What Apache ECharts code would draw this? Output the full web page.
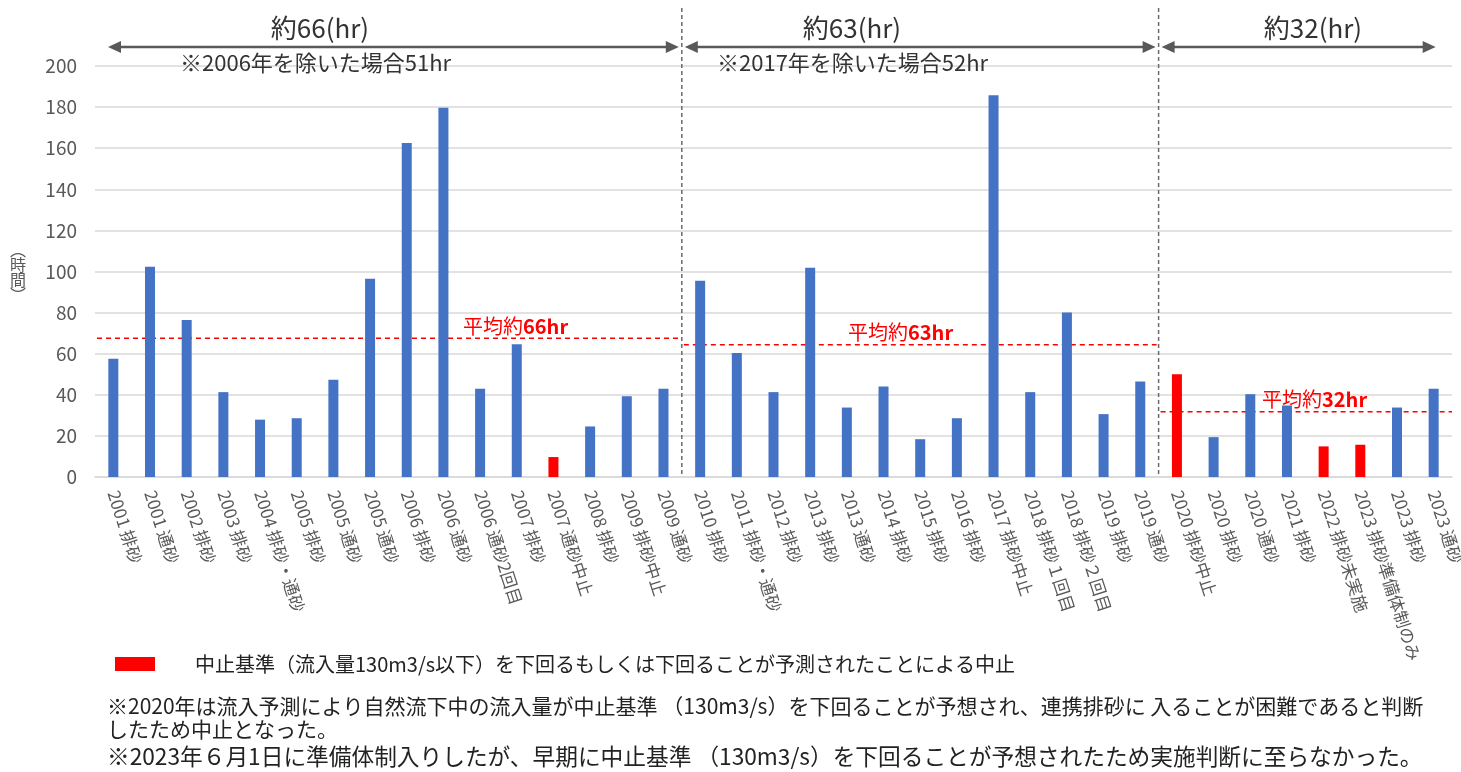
<!DOCTYPE html>
<html>
<head>
<meta charset="utf-8">
<script src="https://cdn.jsdelivr.net/npm/echarts@6/dist/echarts.min.js"></script>
<style>
  html, body { margin: 0; padding: 0; background: #fff; }
  #chart { width: 1461px; height: 772px; }
</style>
</head>
<body>
<div id="chart"></div>
<script>
// categories (year + operation)
const categories = [
  '2001 排砂', '2001 通砂', '2002 排砂', '2003 排砂', '2004 排砂・通砂', '2005 排砂', '2005 通砂', '2005 通砂',
  '2006 排砂', '2006 通砂', '2006 通砂2回目', '2007 排砂', '2007 通砂中止', '2008 排砂', '2009 排砂中止', '2009 通砂',
  '2010 排砂', '2011 排砂・通砂', '2012 排砂', '2013 排砂', '2013 通砂', '2014 排砂', '2015 排砂', '2016 排砂',
  '2017 排砂中止', '2018 排砂１回目', '2018 排砂２回目', '2019 排砂', '2019 通砂',
  '2020 排砂中止', '2020 排砂', '2020 通砂', '2021 排砂', '2022 排砂未実施', '2023 排砂準備体制のみ', '2023 排砂', '2023 通砂'
];
// hours per operation
const hours = [
  57.5, 102.3, 76.4, 41.3, 27.9, 28.6, 47.3, 96.5,
  162.5, 179.7, 43, 64.6, 9.7, 24.6, 39.3, 43,
  95.5, 60.4, 41.3, 101.8, 33.8, 44, 18.4, 28.6,
  185.8, 41.3, 80.1, 30.6, 46.5,
  50, 19.4, 40.3, 34.8, 14.9, 15.7, 33.8, 43
];
// operations stopped by the inflow criterion (red bars)
const stoppedIdx = [12, 29, 33, 34];
// periods: first/last category index, average line value, label
const periodStart = [0, 16, 29];
const periodEnd = [15, 28, 36];
const periodAvg = [67.5, 64.3, 31.7];
const avgLabels = ['66hr', '63hr', '32hr'];
const periodTitles = ['約66(hr)', '約63(hr)', '約32(hr)'];
const periodNotes = ['※2006年を除いた場合51hr', '※2017年を除いた場合52hr', ''];
const yTicks = { min: 0, max: 200, interval: 20 };
const yName = ['︵', '時', '間', '︶'];

const FONT = '"Noto Sans CJK JP", "Noto Sans", sans-serif';
const BLUE = '#4472C4';
const RED = '#FF0000';

const chart = echarts.init(document.getElementById('chart'));

chart.setOption({
  animation: false,
  textStyle: { fontFamily: FONT },
  grid: { left: 95, right: 9, top: 66, bottom: 295, outerBoundsMode: 'none' },
  xAxis: {
    type: 'category',
    data: categories,
    axisLine: { lineStyle: { color: '#d9d9d9', width: 1.5 } },
    axisTick: { show: false },
    axisLabel: { interval: 0, rotate: -72, color: '#595959', fontSize: 17, fontFamily: FONT, margin: 14 }
  },
  yAxis: {
    type: 'value',
    min: yTicks.min,
    max: yTicks.max,
    interval: yTicks.interval,
    axisLine: { show: false },
    axisTick: { show: false },
    axisLabel: { color: '#595959', fontSize: 19, fontFamily: FONT, margin: 18 },
    splitLine: { lineStyle: { color: '#d9d9d9', width: 1.5 } }
  },
  series: [{
    type: 'bar',
    barWidth: 10,
    data: hours.map((v, i) => ({
      value: v,
      itemStyle: { color: stoppedIdx.includes(i) ? RED : BLUE }
    }))
  }]
});

// annotations placed from the axis scales
const x0 = chart.convertToPixel({ gridIndex: 0 }, [0, 0]);
const x1 = chart.convertToPixel({ gridIndex: 0 }, [1, 0]);
const band = x1[0] - x0[0];
const px = i => x0[0] + i * band;
const py = v => chart.convertToPixel({ gridIndex: 0 }, [0, v])[1];
const gridLeft = px(-0.5);
const gridRight = px(categories.length - 0.5);
const yBottom = py(0);

const graphics = [];

// dividers between periods
const dividers = periodEnd.slice(0, -1).map(e => px(e + 0.5));
dividers.forEach(x => {
  graphics.push({
    type: 'line', silent: true,
    shape: { x1: x, y1: 8, x2: x, y2: yBottom },
    style: { stroke: '#6b6b6b', lineWidth: 1.5, lineDash: [4, 3] }
  });
});

// average dashed lines and labels
const avgLabelX = [463, 848, 1262];
periodAvg.forEach((v, k) => {
  const xa = k === 0 ? gridLeft + 2 : dividers[k - 1] + 2;
  const xb = k === periodAvg.length - 1 ? gridRight : dividers[k] - 2;
  const y = py(v);
  graphics.push({
    type: 'line', silent: true,
    shape: { x1: xa, y1: y, x2: xb, y2: y },
    style: { stroke: RED, lineWidth: 1.5, lineDash: [5, 4] }
  });
  graphics.push({
    type: 'text', silent: true,
    x: avgLabelX[k], y: y - 2,
    style: {
      text: '{a|平均約}{b|' + avgLabels[k] + '}',
      textVerticalAlign: 'bottom',
      rich: {
        a: { fill: RED, fontSize: 20, fontFamily: FONT },
        b: { fill: RED, fontSize: 20, fontFamily: FONT, fontWeight: 'bold' }
      }
    }
  });
});

// double-headed arrows with period titles
const arrowY = 47;
const arrowSpans = [
  [px(-0.5) + 13, dividers[0] - 3],
  [dividers[0] + 3, dividers[1] - 3],
  [dividers[1] + 3, px(categories.length - 1) + 2]
];
const titleX = [320, 852, 1313];
const noteX = [180, 717];
arrowSpans.forEach(([a, b], k) => {
  const c = '#595959';
  graphics.push({
    type: 'line', silent: true,
    shape: { x1: a + 10, y1: arrowY, x2: b - 10, y2: arrowY },
    style: { stroke: c, lineWidth: 2.5 }
  });
  graphics.push({
    type: 'polygon', silent: true,
    shape: { points: [[a, arrowY], [a + 13, arrowY - 6], [a + 13, arrowY + 6]] },
    style: { fill: c }
  });
  graphics.push({
    type: 'polygon', silent: true,
    shape: { points: [[b, arrowY], [b - 13, arrowY - 6], [b - 13, arrowY + 6]] },
    style: { fill: c }
  });
  graphics.push({
    type: 'text', silent: true,
    x: titleX[k], y: 28,
    style: { text: periodTitles[k], fill: '#333', fontSize: 26, fontFamily: FONT, textAlign: 'center', textVerticalAlign: 'middle' }
  });
  if (periodNotes[k]) {
    graphics.push({
      type: 'text', silent: true,
      x: noteX[k], y: 63,
      style: { text: periodNotes[k], fill: '#333', fontSize: 22, fontFamily: FONT, textVerticalAlign: 'middle' }
    });
  }
});

// y axis name, one glyph per row
yName.forEach((ch, i) => {
  graphics.push({
    type: 'text', silent: true,
    x: 18, y: 250 + i * 15,
    style: { text: ch, fill: '#595959', fontSize: 16, fontFamily: FONT, textAlign: 'center', textVerticalAlign: 'middle' }
  });
});

// legend for stopped operations
graphics.push({
  type: 'rect', silent: true,
  shape: { x: 115, y: 657, width: 40, height: 14 },
  style: { fill: RED }
});
graphics.push({
  type: 'text', silent: true,
  x: 195, y: 664,
  style: { text: '中止基準（流入量130m3/s以下）を下回るもしくは下回ることが予測されたことによる中止', fill: '#222', fontSize: 20, fontFamily: FONT, textVerticalAlign: 'middle' }
});

// footnotes
const notes = [
  ['※2020年は流入予測により自然流下中の流入量が中止基準 （130m3/s）を下回ることが予想され、連携排砂に 入ることが困難であると判断', 706, 21],
  ['したため中止となった。', 729, 21],
  ['※2023年６月1日に準備体制入りしたが、早期に中止基準 （130m3/s）を下回ることが予想されたため実施判断に至らなかった。', 756, 22.7]
];
notes.forEach(([t, y, fs]) => {
  graphics.push({
    type: 'text', silent: true,
    x: 107, y: y,
    style: { text: t, fill: '#222', fontSize: fs, fontFamily: FONT, textVerticalAlign: 'middle' }
  });
});

chart.setOption({ graphic: graphics });
</script>
</body>
</html>
